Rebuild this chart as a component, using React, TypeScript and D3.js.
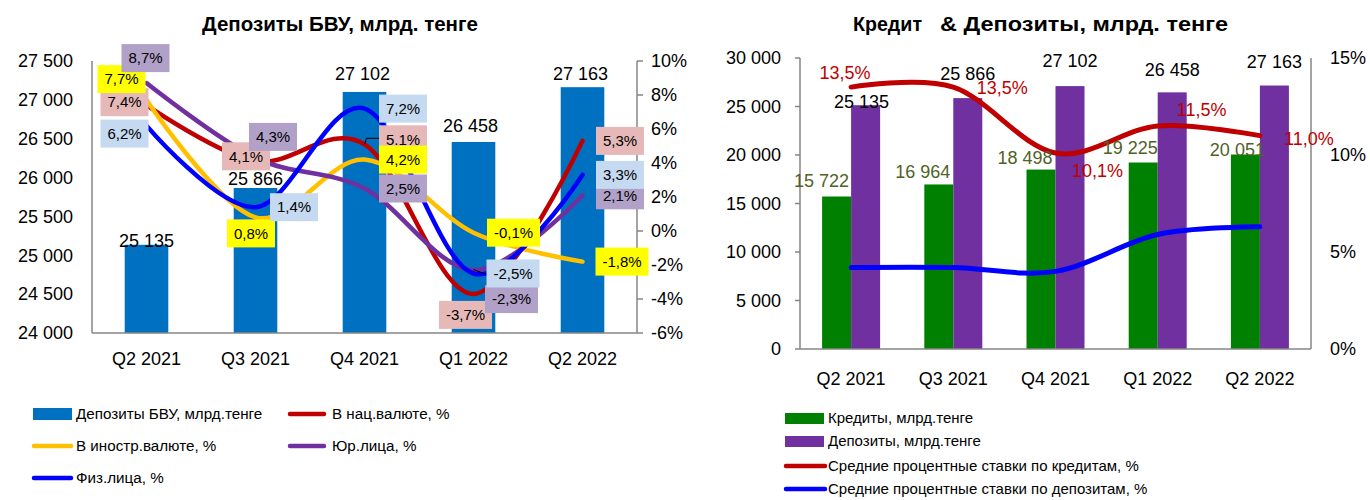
import React from "react";
import * as d3 from "d3";

// ---------- Data: left chart ----------
const quarters = ["Q2 2021", "Q3 2021", "Q4 2021", "Q1 2022", "Q2 2022"];
const depositsBVU = [25135, 25866, 27102, 26458, 27163];
const natCurrency = [7.4, 4.1, 5.1, -3.7, 5.3];
const forCurrency = [7.7, 0.8, 4.2, -0.1, -1.8];
const legalEntities = [8.7, 4.3, 2.5, -2.3, 2.1];
const individuals = [6.2, 1.4, 7.2, -2.5, 3.3];
const natLabels = ["7,4%", "4,1%", "5.1%", "-3,7%", "5,3%"];
const forLabels = ["7,7%", "0,8%", "4,2%", "-0,1%", "-1,8%"];
const legalLabels = ["8,7%", "4,3%", "2,5%", "-2,3%", "2,1%"];
const indLabels = ["6,2%", "1,4%", "7,2%", "-2,5%", "3,3%"];
const leftTicks = [24000, 24500, 25000, 25500, 26000, 26500, 27000, 27500];
const rightTicks = [-6, -4, -2, 0, 2, 4, 6, 8, 10];

// ---------- Data: right chart ----------
const credits = [15722, 16964, 18498, 19225, 20051];
const deposits = [25135, 25866, 27102, 26458, 27163];
const creditRates = [13.5, 13.5, 10.1, 11.5, 11.0];
const depositRates = [4.2, 4.2, 4.0, 5.9, 6.3];
const creditRateLabels = ["13,5%", "13,5%", "10,1%", "11,5%", "11,0%"];
const rLeftTicks = [0, 5000, 10000, 15000, 20000, 25000, 30000];
const rRightTicks = [0, 5, 10, 15];

// ---------- Label nudges (layout) ----------
const barLabelNudge = [[0, 2], [0, -3], [-2, -12], [-3, -10], [-2, -7]];
const natNudge = [[-22, -3], [-9.5, -5], [38.5, -5], [-8, 21], [37.5, 0]];
const forNudge = [[-25, -21], [-4.5, 16], [38.5, 0], [40, 0], [39.5, 0]];
const legalNudge = [[-1, -25], [17.5, -21], [38.5, 0], [38, 29], [37.5, 0]];
const indNudge = [[-22, 8], [38.5, 0], [38.5, 0], [39.5, 0], [37.5, 0]];
const creditNudge = [[-15, -16], [-16, -12.5], [-16, -12], [-13, -15], [-8, -4.5]];
const depositNudge = [[-4, -3], [0, -24], [0, -25], [0, -23], [0, -24]];
const rateNudge = [[-6, -14], [49, 1], [42, 18], [44, -16], [49, 3]];

const FONT = "'Liberation Sans', Arial, sans-serif";
const fmt = (v: number) => d3.format(",")(v).replace(/,/g, " ");
const AXIS = "#868686";

function fmtPct(v: number) {
  return `${v}%`;
}

function LeftChart() {
  const x0 = 92, x1 = 637, yTop = 61, yBot = 333;
  const x = d3.scaleBand().domain(quarters).range([x0, x1]).paddingInner(0.6).paddingOuter(0.3);
  const cx = (q: string) => (x(q) as number) + x.bandwidth() / 2;
  const yL = d3.scaleLinear().domain([24000, 27500]).range([yBot, yTop]);
  const yR = d3.scaleLinear().domain([-6, 10]).range([yBot, yTop]);
  const line = d3.line<number>().x((_, i) => cx(quarters[i])).y((d) => yR(d)).curve(d3.curveCardinal.tension(0));

  const series = [
    { vals: natCurrency, color: "#c00000", box: "#e6b9b8", labels: natLabels, nudge: natNudge },
    { vals: forCurrency, color: "#ffc000", box: "#ffff00", labels: forLabels, nudge: forNudge },
    { vals: legalEntities, color: "#7030a0", box: "#b1a0c7", labels: legalLabels, nudge: legalNudge },
    { vals: individuals, color: "#0000ff", box: "#c5d9f1", labels: indLabels, nudge: indNudge },
  ];

  return (
    <g fontFamily={FONT}>
      <text x={340} y={31} textAnchor="middle" fontSize={20.5} fontWeight="bold">Депозиты БВУ, млрд. тенге</text>
      {depositsBVU.map((v, i) => (
        <rect key={i} x={x(quarters[i])} y={yL(v)} width={x.bandwidth()} height={yBot - yL(v)} fill="#0070c0" />
      ))}
      {depositsBVU.map((v, i) => (
        <text key={i} x={cx(quarters[i]) + barLabelNudge[i][0]} y={yL(v) + barLabelNudge[i][1]} textAnchor="middle" fontSize={18}>{fmt(v)}</text>
      ))}
      <line x1={x0} x2={x0} y1={yTop} y2={yBot} stroke={AXIS} strokeWidth={1.5} />
      <line x1={x1} x2={x1} y1={yTop} y2={yBot} stroke={AXIS} strokeWidth={1.5} />
      <line x1={x0} x2={x1} y1={yBot} y2={yBot} stroke={AXIS} strokeWidth={1.5} />
      {leftTicks.map((t) => (
        <text key={t} x={73} y={yL(t)} dy="0.35em" textAnchor="end" fontSize={18}>{fmt(t)}</text>
      ))}
      {rightTicks.map((t) => (
        <g key={t}>
          <line x1={x1} x2={x1 + 6} y1={yR(t)} y2={yR(t)} stroke={AXIS} strokeWidth={1.5} />
          <text x={651} y={yR(t)} dy="0.35em" fontSize={18}>{fmtPct(t)}</text>
        </g>
      ))}
      {quarters.map((q) => (
        <text key={q} x={cx(q)} y={359} dy="0.35em" textAnchor="middle" fontSize={18}>{q}</text>
      ))}
      {series.map((s, k) => (
        <path key={k} d={line(s.vals) as string} fill="none" stroke={s.color} strokeWidth={4.5} strokeLinecap="round" />
      ))}
      {/* leader lines */}
      <polyline points={`${cx(quarters[2])},${yR(natCurrency[2])} ${cx(quarters[2]) + 2},${yR(natCurrency[2]) - 6} ${cx(quarters[2]) + 15},${yR(natCurrency[2]) - 6}`} fill="none" stroke="#000" strokeWidth={1} />
      <line x1={cx(quarters[3])} y1={yR(individuals[3]) - 4} x2={cx(quarters[3]) + 13} y2={yR(individuals[3]) + 1} stroke="#000" strokeWidth={1} />
      {series.map((s, k) =>
        s.vals.map((v, i) => {
          const px = cx(quarters[i]) + s.nudge[i][0];
          const py = yR(v) + s.nudge[i][1];
          const w = s.labels[i].length > 4 ? 53 : 48;
          return (
            <g key={`${k}-${i}`}>
              <rect x={px - w / 2} y={py - 14} width={w} height={28} fill={s.box} />
              <text x={px} y={py} dy="0.35em" textAnchor="middle" fontSize={15}>{s.labels[i]}</text>
            </g>
          );
        })
      )}
      {/* legend */}
      <rect x={33} y={408} width={39} height={12} fill="#0070c0" />
      <text x={76} y={414} dy="0.35em" fontSize={15.2}>Депозиты БВУ, млрд.тенге</text>
      <line x1={290} x2={324} y1={414} y2={414} stroke="#c00000" strokeWidth={4.5} strokeLinecap="round" />
      <text x={332} y={414} dy="0.35em" fontSize={15.2}>В нац.валюте, %</text>
      <line x1={34} x2={71} y1={446} y2={446} stroke="#ffc000" strokeWidth={4.5} strokeLinecap="round" />
      <text x={76} y={446} dy="0.35em" fontSize={15.2}>В иностр.валюте, %</text>
      <line x1={290} x2={324} y1={446} y2={446} stroke="#7030a0" strokeWidth={4.5} strokeLinecap="round" />
      <text x={332} y={446} dy="0.35em" fontSize={15.2}>Юр.лица, %</text>
      <line x1={34} x2={71} y1={478} y2={478} stroke="#0000ff" strokeWidth={4.5} strokeLinecap="round" />
      <text x={76} y={478} dy="0.35em" fontSize={15.2}>Физ.лица, %</text>
    </g>
  );
}

function RightChart() {
  const x0 = 800, x1 = 1311, yTop = 58, yBot = 349;
  const x = d3.scaleBand().domain(quarters).range([x0, x1]);
  const cx = (q: string) => (x(q) as number) + x.bandwidth() / 2;
  const bw = 29;
  const yL = d3.scaleLinear().domain([0, 30000]).range([yBot, yTop]);
  const yR = d3.scaleLinear().domain([0, 15]).range([yBot, yTop]);
  const line = d3.line<number>().x((_, i) => cx(quarters[i])).y((d) => yR(d)).curve(d3.curveCardinal.tension(0));

  return (
    <g fontFamily={FONT}>
      <text x={853} y={31} fontSize={20.5} fontWeight="bold" textLength={69} lengthAdjust="spacingAndGlyphs">Кредит</text>
      <text x={940} y={31} fontSize={20.5} fontWeight="bold" textLength={288} lengthAdjust="spacingAndGlyphs">&amp; Депозиты, млрд. тенге</text>
      {credits.map((v, i) => (
        <rect key={`c${i}`} x={cx(quarters[i]) - bw} y={yL(v)} width={bw} height={yBot - yL(v)} fill="#008000" />
      ))}
      {deposits.map((v, i) => (
        <rect key={`d${i}`} x={cx(quarters[i])} y={yL(v)} width={bw} height={yBot - yL(v)} fill="#7030a0" />
      ))}
      <line x1={x0} x2={x0} y1={yTop} y2={yBot} stroke={AXIS} strokeWidth={1.5} />
      <line x1={x1} x2={x1} y1={yTop} y2={yBot} stroke={AXIS} strokeWidth={1.5} />
      <line x1={x0} x2={x1} y1={yBot} y2={yBot} stroke={AXIS} strokeWidth={1.5} />
      {rLeftTicks.map((t) => (
        <g key={t}>
          <line x1={x0 - 5} x2={x0} y1={yL(t)} y2={yL(t)} stroke={AXIS} strokeWidth={1.5} />
          <text x={781} y={yL(t)} dy="0.35em" textAnchor="end" fontSize={18}>{fmt(t)}</text>
        </g>
      ))}
      {rRightTicks.map((t) => (
        <text key={t} x={1330} y={yR(t)} dy="0.35em" fontSize={18}>{fmtPct(t)}</text>
      ))}
      {quarters.map((q) => (
        <text key={q} x={cx(q)} y={379} dy="0.35em" textAnchor="middle" fontSize={18}>{q}</text>
      ))}
      <path d={line(creditRates) as string} fill="none" stroke="#c00000" strokeWidth={5} strokeLinecap="round" />
      <path d={line(depositRates) as string} fill="none" stroke="#0000ff" strokeWidth={5} strokeLinecap="round" />
      {credits.map((v, i) => (
        <text key={`cl${i}`} x={cx(quarters[i]) - bw / 2 + creditNudge[i][0]} y={yL(v) + creditNudge[i][1]} dy="0.35em" textAnchor="middle" fontSize={18} fill="#4f6228">{fmt(v)}</text>
      ))}
      {deposits.map((v, i) => (
        <text key={`dl${i}`} x={cx(quarters[i]) + bw / 2 + depositNudge[i][0]} y={yL(v) + depositNudge[i][1]} dy="0.35em" textAnchor="middle" fontSize={18}>{fmt(v)}</text>
      ))}
      {creditRates.map((v, i) => (
        <text key={`rl${i}`} x={cx(quarters[i]) + rateNudge[i][0]} y={yR(v) + rateNudge[i][1]} dy="0.35em" textAnchor="middle" fontSize={18} fill="#c00000">{creditRateLabels[i]}</text>
      ))}
      {/* legend */}
      <rect x={785} y={413} width={39} height={11} fill="#008000" />
      <text x={828} y={418} dy="0.35em" fontSize={15}>Кредиты, млрд.тенге</text>
      <rect x={785} y={436} width={39} height={11} fill="#7030a0" />
      <text x={828} y={441} dy="0.35em" fontSize={15}>Депозиты, млрд.тенге</text>
      <line x1={786} x2={825} y1={466} y2={466} stroke="#c00000" strokeWidth={4.5} strokeLinecap="round" />
      <text x={828} y={466} dy="0.35em" fontSize={15}>Средние процентные ставки по кредитам, %</text>
      <line x1={786} x2={825} y1={489} y2={489} stroke="#0000ff" strokeWidth={4.5} strokeLinecap="round" />
      <text x={828} y={489} dy="0.35em" fontSize={15}>Средние процентные ставки по депозитам, %</text>
    </g>
  );
}

export default function App() {
  return (
    <svg width={1370} height={500} style={{ position: "absolute", left: 0, top: 0, background: "#fff" }}>
      <rect width={1370} height={500} fill="#fff" />
      <LeftChart />
      <RightChart />
    </svg>
  );
}
